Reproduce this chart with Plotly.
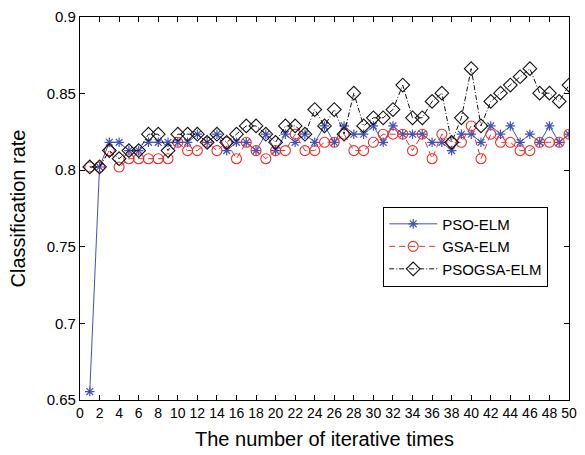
import plotly.graph_objects as go

# Iteration index
iterations = list(range(1, 51))

# Classification rate per iteration for each optimiser
pso_elm = [0.6555, 0.8021, 0.8182, 0.8182, 0.8128, 0.8128, 0.8182, 0.8182, 0.8182, 0.8182,
           0.8182, 0.8235, 0.8182, 0.8235, 0.8128, 0.8182, 0.8182, 0.8128, 0.8235, 0.8128,
           0.8235, 0.8182, 0.8235, 0.8182, 0.8289, 0.8182, 0.8289, 0.8235, 0.8235, 0.8289,
           0.8182, 0.8289, 0.8235, 0.8235, 0.8235, 0.8182, 0.8182, 0.8128, 0.8235, 0.8235,
           0.8182, 0.8289, 0.8235, 0.8289, 0.8182, 0.8235, 0.8182, 0.8289, 0.8182, 0.8235]

gsa_elm = [0.8021, 0.8021, 0.8128, 0.8021, 0.8075, 0.8075, 0.8075, 0.8075, 0.8075, 0.8182,
           0.8128, 0.8128, 0.8182, 0.8128, 0.8182, 0.8075, 0.8182, 0.8128, 0.8075, 0.8128,
           0.8128, 0.8235, 0.8128, 0.8128, 0.8182, 0.8182, 0.8235, 0.8128, 0.8128, 0.8182,
           0.8235, 0.8235, 0.8235, 0.8128, 0.8235, 0.8075, 0.8235, 0.8182, 0.8182, 0.8289,
           0.8075, 0.8235, 0.8182, 0.8182, 0.8128, 0.8128, 0.8182, 0.8182, 0.8182, 0.8235]

psogsa_elm = [0.8021, 0.8021, 0.8128, 0.8075, 0.8128, 0.8128, 0.8235, 0.8235, 0.8128, 0.8235,
              0.8235, 0.8235, 0.8182, 0.8235, 0.8182, 0.8235, 0.8289, 0.8289, 0.8235, 0.8182,
              0.8289, 0.8289, 0.8235, 0.8396, 0.8289, 0.8396, 0.8235, 0.8503, 0.8289, 0.8342,
              0.8342, 0.8396, 0.8556, 0.8342, 0.8342, 0.8449, 0.8503, 0.8182, 0.8342, 0.8663,
              0.8289, 0.8449, 0.8503, 0.8556, 0.8610, 0.8663, 0.8503, 0.8503, 0.8449, 0.8556]

series_names = ["PSO-ELM", "GSA-ELM", "PSOGSA-ELM"]

# Axis ticks
x_ticks = list(range(0, 51, 2))
y_ticks = [0.65, 0.7, 0.75, 0.8, 0.85, 0.9]
y_tick_text = ["0.65", "0.7", "0.75", "0.8", "0.85", "0.9"]

FONT = "Liberation Sans, Arial, sans-serif"

fig = go.Figure()

fig.add_trace(go.Scatter(
    x=iterations, y=pso_elm, name=series_names[0], mode="lines+markers",
    line=dict(color="#4253b8", width=1),
    marker=dict(symbol="asterisk-open", size=8, color="#4253b8",
                line=dict(color="#4253b8", width=1.2)),
))
fig.add_trace(go.Scatter(
    x=iterations, y=gsa_elm, name=series_names[1], mode="lines+markers",
    line=dict(color="#e8302a", width=1, dash="6px,4px"),
    marker=dict(symbol="circle-open", size=10, color="#e8302a",
                line=dict(color="#e8302a", width=1.1)),
))
fig.add_trace(go.Scatter(
    x=iterations, y=psogsa_elm, name=series_names[2], mode="lines+markers",
    line=dict(color="#111111", width=1, dash="5px,2px,1px,2px"),
    marker=dict(symbol="diamond-open", size=10.5, color="#111111",
                line=dict(color="#111111", width=1.1)),
))

axis_common = dict(
    showline=True, linecolor="black", linewidth=1.3, mirror="ticks",
    ticks="inside", ticklen=5, tickwidth=1, tickcolor="black",
    showgrid=False, zeroline=False,
)

fig.update_layout(
    width=585, height=455,
    margin=dict(l=80, r=8, t=11, b=55),
    paper_bgcolor="white", plot_bgcolor="white",
    font=dict(family=FONT, color="black"),
    showlegend=True,
    legend=dict(
        x=0.62, y=0.505, xanchor="left", yanchor="top",
        bgcolor="white", bordercolor="black", borderwidth=1,
        font=dict(size=15, family=FONT, color="black"),
        itemwidth=48, tracegroupgap=0,
    ),
    xaxis=dict(
        range=[0, 50], tickmode="array", tickvals=x_ticks,
        ticktext=[str(t) for t in x_ticks],
        tickfont=dict(size=14, family=FONT),
        title=dict(text="The number of iterative times",
                   font=dict(size=20, family=FONT), standoff=12),
        **axis_common,
    ),
    yaxis=dict(
        range=[0.65, 0.9], tickmode="array", tickvals=y_ticks,
        ticktext=y_tick_text,
        tickfont=dict(size=15, family=FONT),
        title=dict(text="Classification rate",
                   font=dict(size=20, family=FONT), standoff=15),
        **axis_common,
    ),
    hovermode=False,
)

fig.write_html("out.html")
